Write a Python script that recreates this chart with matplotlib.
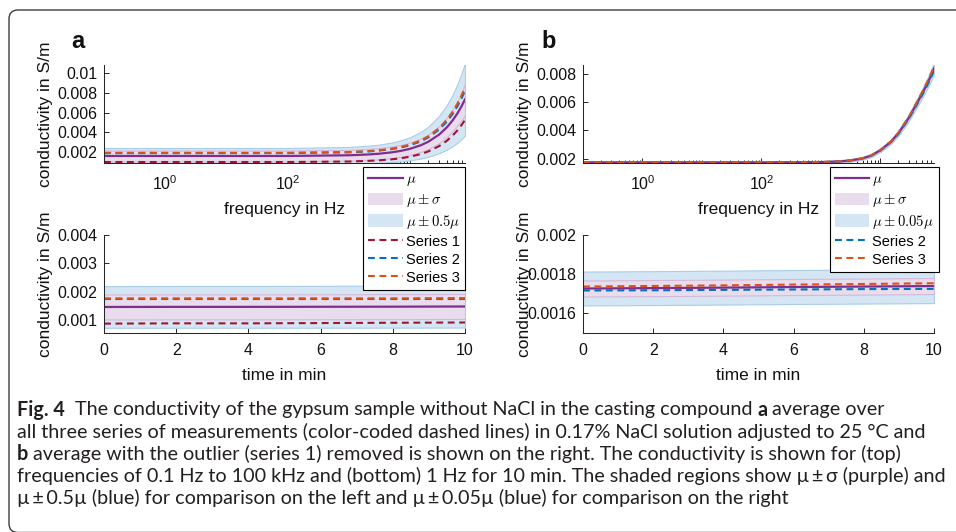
import matplotlib
matplotlib.use("Agg")
import matplotlib.pyplot as plt
import numpy as np
from matplotlib.patches import Patch, PathPatch
from matplotlib.path import Path
from matplotlib.lines import Line2D
from matplotlib.font_manager import FontProperties
from matplotlib.transforms import IdentityTransform

plt.rcParams['font.family'] = ['Liberation Sans', 'DejaVu Sans']

# ---- data ----
freq = [0.1, 1, 10, 100, 1000, 2000, 3000, 5000, 7000, 10000, 15000, 20000,
        30000, 40000, 50000, 60000, 70000, 79400]

# panel a, frequency sweep
a_s1 = [0.00100, 0.00100, 0.00100, 0.00100, 0.00105, 0.00111, 0.00116, 0.00127,
        0.00137, 0.00154, 0.00180, 0.00207, 0.00261, 0.00314, 0.00368, 0.00421,
        0.00475, 0.00525]
a_s2 = [0.00190, 0.00190, 0.00190, 0.00190, 0.00198, 0.00206, 0.00214, 0.00230,
        0.00246, 0.00269, 0.00309, 0.00349, 0.00428, 0.00508, 0.00587, 0.00666,
        0.00746, 0.00820]
a_s3 = [0.00193, 0.00193, 0.00193, 0.00193, 0.00201, 0.00210, 0.00218, 0.00235,
        0.00252, 0.00276, 0.00318, 0.00359, 0.00442, 0.00526, 0.00609, 0.00692,
        0.00775, 0.00853]
a_sig_f = [0.00055, 0.00055, 0.00055, 0.00055, 0.00055, 0.00056, 0.00057, 0.00058,
           0.00060, 0.00062, 0.00067, 0.00073, 0.00085, 0.00098, 0.00110, 0.00123,
           0.00140, 0.00160]

# panel b, frequency sweep (series 1 removed)
b_s2 = [0.00172, 0.00172, 0.00172, 0.00172, 0.00174, 0.00179, 0.00185, 0.00201,
        0.002205, 0.00258, 0.00317, 0.00376, 0.00484, 0.00577, 0.00650, 0.00713,
        0.007715, 0.00825]
b_s3 = [0.00174, 0.00174, 0.00174, 0.00174, 0.00176, 0.00181, 0.00187, 0.00203,
        0.002235, 0.00262, 0.00323, 0.00384, 0.00496, 0.00593, 0.00670, 0.00737,
        0.007985, 0.00855]
b_sig_f = [0.00004, 0.00004, 0.00004, 0.00004, 0.00004, 0.00004, 0.00004, 0.00004,
           0.00005, 0.00006, 0.00007, 0.00008, 0.00009, 0.00010, 0.00011, 0.00012,
           0.00013, 0.00015]

# time series at 1 Hz
tmin = [0, 2, 4, 6, 8, 10]
a_t1 = [0.00088, 0.00089, 0.00089, 0.00090, 0.00091, 0.00092]
a_t2 = [0.00175, 0.00175, 0.00175, 0.00175, 0.00175, 0.00175]
a_t3 = [0.00177, 0.00177, 0.00177, 0.00177, 0.00177, 0.00178]
a_sig_t = [0.00044, 0.00044, 0.00044, 0.00044, 0.00044, 0.00044]
b_t2 = [0.001717, 0.001718, 0.001720, 0.001722, 0.001724, 0.001725]
b_t3 = [0.001737, 0.001740, 0.001743, 0.001747, 0.001750, 0.001754]
b_sig_t = [0.000041, 0.000041, 0.000041, 0.000041, 0.000041, 0.000041]

# colours (MATLAB defaults)
C_MU = '#7E2F8E'
C_S1 = '#A2142F'
C_S2 = '#0072BD'
C_S3 = '#D95319'
PURP_F, PURP_E = '#E9DCEC', '#D4B8DA'
BLUE_F, BLUE_E = '#D4E6F3', '#A8CDE8'
AX = '#262626'
TXT = '#111111'

W, H = 956, 532
fig = plt.figure(figsize=(W / 100, H / 100), dpi=100)


def rect(l, t, r, b):
    return [l / W, 1 - b / H, (r - l) / W, (b - t) / H]


def style(ax):
    for s in ['top', 'right']:
        ax.spines[s].set_visible(False)
    for s in ['left', 'bottom']:
        ax.spines[s].set_color(AX)
        ax.spines[s].set_linewidth(0.75)
    ax.set_axisbelow(True)
    ax.patch.set_visible(False)
    ax.tick_params(which='both', direction='in', colors=AX, labelsize=11.5,
                   width=0.7, labelcolor=TXT)
    ax.tick_params(which='major', length=3.5)
    ax.tick_params(which='minor', length=2)
    ax.tick_params(axis='y', pad=5)


def draw(ax, x, series, sig, frac):
    cols = [C_S1, C_S2, C_S3][-len(series):]
    mu = np.mean(np.array(series), axis=0)
    sig = np.array(sig)
    ax.fill_between(x, mu - frac * mu, mu + frac * mu, facecolor=BLUE_F,
                    edgecolor=BLUE_E, lw=0.8)
    ax.fill_between(x, mu - sig, mu + sig, facecolor=PURP_F,
                    edgecolor=PURP_E, lw=0.8)
    ax.plot(x, mu, color=C_MU, lw=1.6)
    for s, c in zip(series, cols):
        ax.plot(x, s, color=c, lw=1.5, dashes=(3.3, 2.2))


def freq_axis(ax, ylim, yt, ylab):
    style(ax)
    ax.set_xscale('log')
    ax.set_xlim(0.1, 79400)
    ax.set_xticks([1, 100, 10000])
    # the 10^4 label sits under the legend in the original
    ax.set_xticklabels([r'$\mathregular{10^{0}}$', r'$\mathregular{10^{2}}$', ''])
    ax.xaxis.set_minor_locator(matplotlib.ticker.LogLocator(
        base=10, subs=np.arange(1, 10), numticks=30))
    ax.xaxis.set_minor_formatter(matplotlib.ticker.NullFormatter())
    ax.tick_params(axis='x', pad=8)
    ax.set_ylim(*ylim)
    ax.set_yticks(yt)
    ax.set_yticklabels(ylab)
    ax.set_xlabel('frequency in Hz', fontsize=12.5, color=TXT)
    ax.xaxis.set_label_coords(0.5, -0.395)


def time_axis(ax, ylim, yt, ylab):
    style(ax)
    ax.set_xlim(0, 10)
    ax.set_xticks([0, 2, 4, 6, 8, 10])
    ax.tick_params(axis='x', pad=7)
    ax.set_ylim(*ylim)
    ax.set_yticks(yt)
    ax.set_yticklabels(ylab)
    ax.set_xlabel('time in min', fontsize=12.5, color=TXT)
    ax.xaxis.set_label_coords(0.5, -0.355)


# panel a
ax1 = fig.add_axes(rect(104, 65, 465, 163))
draw(ax1, freq, [a_s1, a_s2, a_s3], a_sig_f, 0.5)
freq_axis(ax1, (0.0009, 0.0108), [0.002, 0.004, 0.006, 0.008, 0.01],
          ['0.002', '0.004', '0.006', '0.008', '0.01'])

ax2 = fig.add_axes(rect(104, 235, 465, 333))
draw(ax2, tmin, [a_t1, a_t2, a_t3], a_sig_t, 0.5)
time_axis(ax2, (0.00055, 0.004), [0.001, 0.002, 0.003, 0.004],
          ['0.001', '0.002', '0.003', '0.004'])

# panel b
ax3 = fig.add_axes(rect(583, 65, 934, 163))
draw(ax3, freq, [b_s2, b_s3], b_sig_f, 0.05)
freq_axis(ax3, (0.00169, 0.00864), [0.002, 0.004, 0.006, 0.008],
          ['0.002', '0.004', '0.006', '0.008'])

ax4 = fig.add_axes(rect(583, 235, 934, 333))
draw(ax4, tmin, [b_t2, b_t3], b_sig_t, 0.05)
time_axis(ax4, (0.0015, 0.002), [0.0016, 0.0018, 0.002],
          ['0.0016', '0.0018', '0.002'])

for ax, xr in [(ax1, -0.141), (ax2, -0.141), (ax3, -0.146), (ax4, -0.146)]:
    ax.set_ylabel('conductivity in S/m', fontsize=12.5, color=TXT)
    ax.yaxis.set_label_coords(xr, 0.5)

fig.text(78 / W, 1 - 41 / H, 'a', fontsize=17, fontweight='bold',
         ha='center', va='center', color=TXT)
fig.text(549 / W, 1 - 41 / H, 'b', fontsize=17, fontweight='bold',
         ha='center', va='center', color=TXT)

# legends
lp = FontProperties(family='Liberation Sans', size=10.5, math_fontfamily='cm')


def handles(with_s1):
    h = [Line2D([], [], color=C_MU, lw=1.6),
         Patch(facecolor=PURP_F, edgecolor='none'),
         Patch(facecolor=BLUE_F, edgecolor='none')]
    cols = [C_S1, C_S2, C_S3] if with_s1 else [C_S2, C_S3]
    for c in cols:
        h.append(Line2D([], [], color=c, lw=1.5, dashes=(3.3, 2.2)))
    return h


def legend(h, labels, right, top):
    lg = fig.legend(h, labels, loc='upper right',
                    bbox_to_anchor=(right / W, 1 - top / H),
                    bbox_transform=fig.transFigure, borderaxespad=0,
                    prop=lp, fancybox=False, framealpha=1, edgecolor='black',
                    handlelength=2.35, handleheight=0.95, handletextpad=0.2,
                    labelspacing=0.25, borderpad=0.35)
    lg.get_frame().set_linewidth(0.8)
    lg.set_zorder(10)
    return lg


legend(handles(True), [r'$\mu$', r'$\mu \pm \sigma$', r'$\mu \pm 0.5\mu$',
                       'Series 1', 'Series 2', 'Series 3'], 465, 167)
legend(handles(False), [r'$\mu$', r'$\mu \pm \sigma$', r'$\mu \pm 0.05\mu$',
                        'Series 2', 'Series 3'], 939, 167)

# outer frame: open on the right, rounded corners on the left (display px, y up)
top, bot, lx, rr = H - 10, -0.5, 9, 9
frame = Path([(W + 1, top), (lx + rr, top), (lx, top), (lx, top - rr),
              (lx, bot + rr), (lx, bot), (lx + rr, bot), (W + 1, bot)],
             [Path.MOVETO, Path.LINETO, Path.CURVE3, Path.CURVE3,
              Path.LINETO, Path.CURVE3, Path.CURVE3, Path.LINETO])
fig.add_artist(PathPatch(frame, transform=IdentityTransform(), fill=False,
                         edgecolor='#3c3c3c', lw=1.0))

# caption
CAP_FAM = ['Lato', 'DejaVu Sans']
r = fig.canvas.get_renderer()


def tw(s, bold, fs):
    t = fig.text(0, 0, s, fontsize=fs, family=CAP_FAM,
                 fontweight='bold' if bold else 'normal')
    w = t.get_window_extent(renderer=r).width
    t.remove()
    return w


cap = [
    [('Fig. 4', True), ('', False), ('The conductivity of the gypsum sample without NaCl in the casting compound', False),
     ('a', True), ('average over', False)],
    [('all three series of measurements (color-coded dashed lines) in 0.17% NaCl solution adjusted to 25 \u00b0C and', False)],
    [('b', True), ('average with the outlier (series 1) removed is shown on the right. The conductivity is shown for (top)', False)],
    [('frequencies of 0.1 Hz to 100 kHz and (bottom) 1 Hz for 10 min. The shaded regions show \u00b5\u2009\u00b1\u2009\u03c3 (purple) and', False)],
    [('\u00b5\u2009\u00b1\u20090.5\u00b5 (blue) for comparison on the left and \u00b5\u2009\u00b1\u20090.05\u00b5 (blue) for comparison on the right', False)],
]
x0 = 17
fs = 12 * (944 - x0) / tw(cap[3][0][0], False, 12)
gap = tw('x x', False, fs) - tw('xx', False, fs)
for y, line in zip([410, 432, 454, 476, 498], cap):
    x = x0
    for i, (s, b) in enumerate(line):
        if i > 0:
            x += gap
        if s == '':
            continue
        t = fig.text(x / W, 1 - y / H, s, fontsize=fs, family=CAP_FAM,
                     fontweight='bold' if b else 'normal', color='#231f20',
                     ha='left', va='center')
        x += t.get_window_extent(renderer=r).width

fig.savefig('out.png', dpi=100)
